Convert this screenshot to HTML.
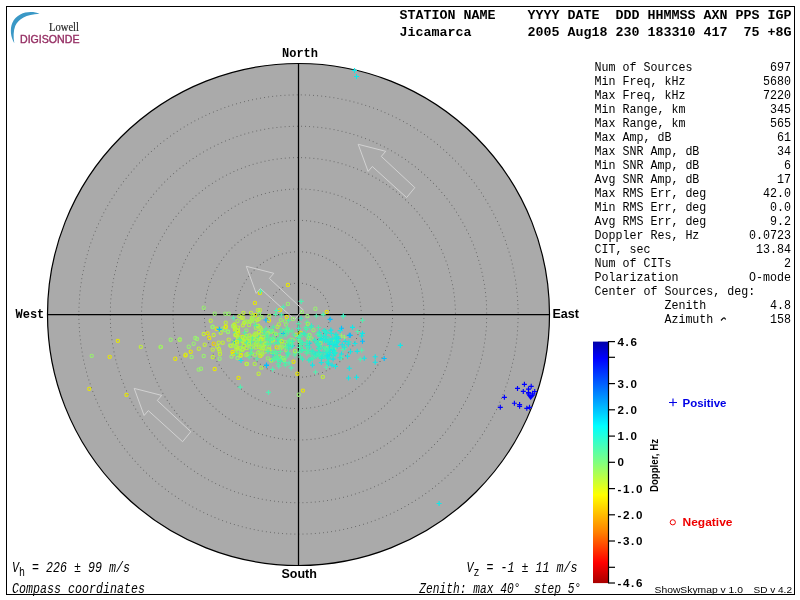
<!DOCTYPE html>
<html><head><meta charset="utf-8"><style>html,body{margin:0;padding:0;background:#fff;width:800px;height:600px;overflow:hidden}svg{display:block;will-change:transform}</style></head>
<body><svg width="800" height="600" viewBox="0 0 800 600">
<rect width="800" height="600" fill="#fff"/>
<rect x="6.5" y="6.5" width="788" height="588" fill="none" stroke="#000" stroke-width="1"/>
<path d="M39.5,13.8 C32,10.6 18,11 12.3,23 C9.8,29 10.6,37 14.3,43.2 C13.2,37 13.4,30.5 15.2,26 C18.5,19 26,14.5 39.5,13.8 Z" fill="#3a98c6"/>
<text x="49" y="30.5" font-family="Liberation Serif" font-size="11.5" fill="#2a2a2a" stroke="#2a2a2a" stroke-width="0.2" textLength="30" lengthAdjust="spacingAndGlyphs">Lowell</text>
<text x="20" y="43" font-family="Liberation Sans" font-size="10.3" fill="#952e63" stroke="#952e63" stroke-width="0.35" textLength="59.5" lengthAdjust="spacingAndGlyphs">DIGISONDE</text>
<text x="399.5" y="19" font-family="Liberation Mono" font-weight="bold" font-size="13.33" fill="#000" xml:space="preserve">STATION NAME    YYYY DATE  DDD HHMMSS AXN PPS IGP</text>
<text x="399.5" y="36" font-family="Liberation Mono" font-weight="bold" font-size="13.33" fill="#000" xml:space="preserve">Jicamarca       2005 Aug18 230 183310 417  75 +8G</text>
<circle cx="298.5" cy="314.5" r="251" fill="#aaaaaa" stroke="#000" stroke-width="1.2"/>
<circle cx="298.5" cy="314.5" r="31.38" fill="none" stroke="#5c5c5c" stroke-width="1" stroke-linecap="round" stroke-dasharray="0 4.1"/>
<circle cx="298.5" cy="314.5" r="62.75" fill="none" stroke="#5c5c5c" stroke-width="1" stroke-linecap="round" stroke-dasharray="0 4.1"/>
<circle cx="298.5" cy="314.5" r="94.12" fill="none" stroke="#5c5c5c" stroke-width="1" stroke-linecap="round" stroke-dasharray="0 4.1"/>
<circle cx="298.5" cy="314.5" r="125.50" fill="none" stroke="#5c5c5c" stroke-width="1" stroke-linecap="round" stroke-dasharray="0 4.1"/>
<circle cx="298.5" cy="314.5" r="156.88" fill="none" stroke="#5c5c5c" stroke-width="1" stroke-linecap="round" stroke-dasharray="0 4.1"/>
<circle cx="298.5" cy="314.5" r="188.25" fill="none" stroke="#5c5c5c" stroke-width="1" stroke-linecap="round" stroke-dasharray="0 4.1"/>
<circle cx="298.5" cy="314.5" r="219.62" fill="none" stroke="#5c5c5c" stroke-width="1" stroke-linecap="round" stroke-dasharray="0 4.1"/>
<line x1="298.5" y1="63.5" x2="298.5" y2="565.5" stroke="#000" stroke-width="1.25"/>
<line x1="47.5" y1="314.5" x2="549.5" y2="314.5" stroke="#000" stroke-width="1.25"/>
<polygon points="358.2,144.3 385.7,151.3 381.3,156.4 414.8,187.6 406.6,197.6 372.3,166.5 368.1,171.4" fill="none" stroke="#d4d4d4" stroke-width="0.95"/>
<polygon points="246.3,266.3 273.8,273.3 269.4,278.4 302.9,309.6 294.7,319.6 260.4,288.5 256.2,293.4" fill="none" stroke="#d4d4d4" stroke-width="0.95"/>
<polygon points="134.2,388.4 161.7,395.4 157.3,400.5 190.8,431.7 182.6,441.7 148.3,410.6 144.1,415.5" fill="none" stroke="#d4d4d4" stroke-width="0.95"/>
<text x="282" y="56.7" font-family="Liberation Mono" font-weight="bold" font-size="12" fill="#000">North</text>
<text x="15.5" y="318" font-family="Liberation Mono" font-weight="bold" font-size="12" fill="#000">West</text>
<text x="552.5" y="318" font-family="Liberation Sans" font-weight="bold" font-size="12.5" fill="#000">East</text>
<text x="281.5" y="577.5" font-family="Liberation Sans" font-weight="bold" font-size="12.5" fill="#000">South</text>
<circle cx="117.8" cy="340.8" r="1.65" fill="none" stroke="#e8e800" stroke-width="1.05"/>
<circle cx="91.7" cy="355.8" r="1.65" fill="none" stroke="#98f070" stroke-width="1.05"/>
<circle cx="109.7" cy="356.8" r="1.65" fill="none" stroke="#e8e800" stroke-width="1.05"/>
<circle cx="140.8" cy="346.8" r="1.65" fill="none" stroke="#c0f038" stroke-width="1.05"/>
<circle cx="160.7" cy="346.8" r="1.65" fill="none" stroke="#c0f038" stroke-width="1.05"/>
<circle cx="170.7" cy="339.7" r="1.65" fill="none" stroke="#98f070" stroke-width="1.05"/>
<circle cx="179.6" cy="339.7" r="1.65" fill="none" stroke="#c0f038" stroke-width="1.05"/>
<circle cx="89.3" cy="388.8" r="1.65" fill="none" stroke="#e8e800" stroke-width="1.05"/>
<circle cx="126.5" cy="394.8" r="1.65" fill="none" stroke="#e8e800" stroke-width="1.05"/>
<circle cx="160.7" cy="347" r="1.65" fill="none" stroke="#98f070" stroke-width="1.05"/>
<circle cx="175.3" cy="358.7" r="1.65" fill="none" stroke="#e8e800" stroke-width="1.05"/>
<circle cx="185.7" cy="354.7" r="1.65" fill="none" stroke="#c0f038" stroke-width="1.05"/>
<circle cx="188.7" cy="346.7" r="1.65" fill="none" stroke="#98f070" stroke-width="1.05"/>
<circle cx="190.7" cy="351.7" r="1.65" fill="none" stroke="#e8e800" stroke-width="1.05"/>
<circle cx="191.6" cy="357" r="1.65" fill="none" stroke="#98f070" stroke-width="1.05"/>
<circle cx="193.7" cy="343.7" r="1.65" fill="none" stroke="#98f070" stroke-width="1.05"/>
<circle cx="195.3" cy="338" r="1.65" fill="none" stroke="#98f070" stroke-width="1.05"/>
<circle cx="197" cy="339" r="1.65" fill="none" stroke="#98f070" stroke-width="1.05"/>
<circle cx="198.8" cy="348.7" r="1.65" fill="none" stroke="#c0f038" stroke-width="1.05"/>
<circle cx="198.7" cy="369.6" r="1.65" fill="none" stroke="#98f070" stroke-width="1.05"/>
<circle cx="201" cy="368.7" r="1.65" fill="none" stroke="#98f070" stroke-width="1.05"/>
<circle cx="203.7" cy="307.7" r="1.65" fill="none" stroke="#98f070" stroke-width="1.05"/>
<circle cx="203.7" cy="334" r="1.65" fill="none" stroke="#c0f038" stroke-width="1.05"/>
<circle cx="204.7" cy="344.7" r="1.65" fill="none" stroke="#c0f038" stroke-width="1.05"/>
<circle cx="203.7" cy="356" r="1.65" fill="none" stroke="#98f070" stroke-width="1.05"/>
<circle cx="207.6" cy="333.3" r="1.65" fill="none" stroke="#e8e800" stroke-width="1.05"/>
<circle cx="209.3" cy="338" r="1.65" fill="none" stroke="#e8e800" stroke-width="1.05"/>
<circle cx="210.7" cy="320.7" r="1.65" fill="none" stroke="#c0f038" stroke-width="1.05"/>
<circle cx="212.7" cy="326.7" r="1.65" fill="none" stroke="#98f070" stroke-width="1.05"/>
<circle cx="213.7" cy="335" r="1.65" fill="none" stroke="#c0f038" stroke-width="1.05"/>
<circle cx="213.7" cy="343.7" r="1.65" fill="none" stroke="#f0d000" stroke-width="1.05"/>
<circle cx="212.7" cy="349.6" r="1.65" fill="none" stroke="#c0f038" stroke-width="1.05"/>
<circle cx="212.7" cy="357" r="1.65" fill="none" stroke="#c0f038" stroke-width="1.05"/>
<circle cx="214.7" cy="369" r="1.65" fill="none" stroke="#e8e800" stroke-width="1.05"/>
<circle cx="214.7" cy="313.7" r="1.65" fill="none" stroke="#98f070" stroke-width="1.05"/>
<circle cx="216.7" cy="328.7" r="1.65" fill="none" stroke="#e8e800" stroke-width="1.05"/>
<circle cx="217.3" cy="346.7" r="1.65" fill="none" stroke="#c0f038" stroke-width="1.05"/>
<circle cx="219" cy="349" r="1.65" fill="none" stroke="#c0f038" stroke-width="1.05"/>
<circle cx="219.6" cy="351.3" r="1.65" fill="none" stroke="#c0f038" stroke-width="1.05"/>
<circle cx="220" cy="354" r="1.65" fill="none" stroke="#c0f038" stroke-width="1.05"/>
<circle cx="218.7" cy="342.7" r="1.65" fill="none" stroke="#c0f038" stroke-width="1.05"/>
<circle cx="222.7" cy="342.7" r="1.65" fill="none" stroke="#c0f038" stroke-width="1.05"/>
<circle cx="219.6" cy="358.7" r="1.65" fill="none" stroke="#98f070" stroke-width="1.05"/>
<circle cx="222.7" cy="328.7" r="1.65" fill="none" stroke="#98f070" stroke-width="1.05"/>
<circle cx="226" cy="326.7" r="1.65" fill="none" stroke="#c0f038" stroke-width="1.05"/>
<circle cx="224.7" cy="330" r="1.65" fill="none" stroke="#98f070" stroke-width="1.05"/>
<circle cx="228" cy="332" r="1.65" fill="none" stroke="#98f070" stroke-width="1.05"/>
<circle cx="220.7" cy="332.7" r="1.65" fill="none" stroke="#c0f038" stroke-width="1.05"/>
<circle cx="225.3" cy="313.7" r="1.65" fill="none" stroke="#98f070" stroke-width="1.05"/>
<circle cx="228.7" cy="313.7" r="1.65" fill="none" stroke="#98f070" stroke-width="1.05"/>
<circle cx="225.7" cy="322.7" r="1.65" fill="none" stroke="#c0f038" stroke-width="1.05"/>
<circle cx="228.7" cy="339.6" r="1.65" fill="none" stroke="#c0f038" stroke-width="1.05"/>
<circle cx="230" cy="345.3" r="1.65" fill="none" stroke="#98f070" stroke-width="1.05"/>
<circle cx="231" cy="346" r="1.65" fill="none" stroke="#c0f038" stroke-width="1.05"/>
<circle cx="232.5" cy="352" r="1.65" fill="none" stroke="#e8e800" stroke-width="1.05"/>
<circle cx="233" cy="354" r="1.65" fill="none" stroke="#e8e800" stroke-width="1.05"/>
<circle cx="231.5" cy="356.5" r="1.65" fill="none" stroke="#98f070" stroke-width="1.05"/>
<circle cx="237.5" cy="358" r="1.65" fill="none" stroke="#98f070" stroke-width="1.05"/>
<circle cx="241" cy="355" r="1.65" fill="none" stroke="#e8e800" stroke-width="1.05"/>
<circle cx="247" cy="364" r="1.65" fill="none" stroke="#98f070" stroke-width="1.05"/>
<circle cx="234.5" cy="325" r="1.65" fill="none" stroke="#e8e800" stroke-width="1.05"/>
<circle cx="233" cy="326" r="1.65" fill="none" stroke="#98f070" stroke-width="1.05"/>
<circle cx="235" cy="329.5" r="1.65" fill="none" stroke="#e8e800" stroke-width="1.05"/>
<circle cx="228" cy="331.5" r="1.65" fill="none" stroke="#98f070" stroke-width="1.05"/>
<circle cx="225.5" cy="327" r="1.65" fill="none" stroke="#e8e800" stroke-width="1.05"/>
<circle cx="212.5" cy="327" r="1.65" fill="none" stroke="#98f070" stroke-width="1.05"/>
<circle cx="185.4" cy="355.4" r="1.65" fill="none" stroke="#e8e800" stroke-width="1.05"/>
<circle cx="180" cy="339.5" r="1.65" fill="none" stroke="#98f070" stroke-width="1.05"/>
<circle cx="246.5" cy="363.8" r="1.65" fill="none" stroke="#c0f038" stroke-width="1.05"/>
<circle cx="258.6" cy="373.7" r="1.65" fill="none" stroke="#c0f038" stroke-width="1.05"/>
<circle cx="238.5" cy="377.9" r="1.65" fill="none" stroke="#e8e800" stroke-width="1.05"/>
<circle cx="297.4" cy="373.7" r="1.65" fill="none" stroke="#e8e800" stroke-width="1.05"/>
<circle cx="293.5" cy="361.7" r="1.65" fill="none" stroke="#e8e800" stroke-width="1.05"/>
<circle cx="322.8" cy="376.8" r="1.65" fill="none" stroke="#c0f038" stroke-width="1.05"/>
<circle cx="302.9" cy="390.6" r="1.65" fill="none" stroke="#e8e800" stroke-width="1.05"/>
<circle cx="298.8" cy="394.7" r="1.65" fill="none" stroke="#98f070" stroke-width="1.05"/>
<circle cx="287.9" cy="284.9" r="1.65" fill="none" stroke="#e8e800" stroke-width="1.05"/>
<circle cx="259.9" cy="292.9" r="1.65" fill="none" stroke="#e8e800" stroke-width="1.05"/>
<circle cx="254.9" cy="302.9" r="1.65" fill="none" stroke="#e8e800" stroke-width="1.05"/>
<circle cx="287.9" cy="303.9" r="1.65" fill="none" stroke="#98f070" stroke-width="1.05"/>
<circle cx="279.9" cy="310.1" r="1.65" fill="none" stroke="#e8e800" stroke-width="1.05"/>
<circle cx="257.9" cy="310.1" r="1.65" fill="none" stroke="#c0f038" stroke-width="1.05"/>
<circle cx="259.9" cy="310.1" r="1.65" fill="none" stroke="#c0f038" stroke-width="1.05"/>
<circle cx="315.4" cy="308.7" r="1.65" fill="none" stroke="#98f070" stroke-width="1.05"/>
<circle cx="326.7" cy="311.9" r="1.65" fill="none" stroke="#e8e800" stroke-width="1.05"/>
<circle cx="301.9" cy="311.9" r="1.65" fill="none" stroke="#98f070" stroke-width="1.05"/>
<circle cx="307.4" cy="316" r="1.65" fill="none" stroke="#98f070" stroke-width="1.05"/>
<circle cx="286.8" cy="317" r="1.65" fill="none" stroke="#e8e800" stroke-width="1.05"/>
<circle cx="243.4" cy="312.8" r="1.65" fill="none" stroke="#c0f038" stroke-width="1.05"/>
<circle cx="251" cy="312.8" r="1.65" fill="none" stroke="#c0f038" stroke-width="1.05"/>
<circle cx="241.4" cy="317.6" r="1.65" fill="none" stroke="#c0f038" stroke-width="1.05"/>
<circle cx="255.1" cy="314.9" r="1.65" fill="none" stroke="#e8e800" stroke-width="1.05"/>
<circle cx="259.2" cy="313.5" r="1.65" fill="none" stroke="#98f070" stroke-width="1.05"/>
<circle cx="293" cy="319" r="1.65" fill="none" stroke="#98f070" stroke-width="1.05"/>
<circle cx="244.8" cy="321.8" r="1.65" fill="none" stroke="#98f070" stroke-width="1.05"/>
<circle cx="242.8" cy="317.8" r="1.65" fill="none" stroke="#c0f038" stroke-width="1.05"/>
<circle cx="251.8" cy="317.8" r="1.65" fill="none" stroke="#c0f038" stroke-width="1.05"/>
<circle cx="258.8" cy="319" r="1.65" fill="none" stroke="#c0f038" stroke-width="1.05"/>
<circle cx="269" cy="320.5" r="1.65" fill="none" stroke="#e8e800" stroke-width="1.05"/>
<circle cx="250.5" cy="321.8" r="1.65" fill="none" stroke="#98f070" stroke-width="1.05"/>
<circle cx="255" cy="321.5" r="1.65" fill="none" stroke="#98f070" stroke-width="1.05"/>
<path d="M216.8,329.3h5M219.3,326.8v5" stroke="#00c0ff" stroke-width="1.15"/>
<path d="M258.1,291.2h5M260.6,288.7v5" stroke="#50f0b0" stroke-width="1.15"/>
<path d="M298.7,301.4h5M301.2,298.9v5" stroke="#50f0b0" stroke-width="1.15"/>
<path d="M280.8,306.9h5M283.3,304.4v5" stroke="#50f0b0" stroke-width="1.15"/>
<path d="M274.0,310.5h5M276.5,308.0v5" stroke="#50f0b0" stroke-width="1.15"/>
<path d="M313.8,316h5M316.3,313.5v5" stroke="#50f0b0" stroke-width="1.15"/>
<path d="M320.7,314.6h5M323.2,312.1v5" stroke="#50f0b0" stroke-width="1.15"/>
<path d="M340.9,316h5M343.4,313.5v5" stroke="#10e8e8" stroke-width="1.15"/>
<path d="M327.6,319.3h5M330.1,316.8v5" stroke="#00c0ff" stroke-width="1.15"/>
<path d="M278.8,314.9h5M281.3,312.4v5" stroke="#50f0b0" stroke-width="1.15"/>
<path d="M231.0,318h5M233.5,315.5v5" stroke="#50f0b0" stroke-width="1.15"/>
<path d="M263.5,320h5M266,317.5v5" stroke="#00c0ff" stroke-width="1.15"/>
<path d="M340.8,316.2h5M343.3,313.7v5" stroke="#50f0b0" stroke-width="1.15"/>
<path d="M360.0,320.2h5M362.5,317.7v5" stroke="#50f0b0" stroke-width="1.15"/>
<path d="M339.0,328.2h5M341.5,325.7v5" stroke="#00c0ff" stroke-width="1.15"/>
<path d="M350.0,327.3h5M352.5,324.8v5" stroke="#10e8e8" stroke-width="1.15"/>
<path d="M355.2,331.5h5M357.7,329.0v5" stroke="#50f0b0" stroke-width="1.15"/>
<path d="M360.0,333.3h5M362.5,330.8v5" stroke="#10e8e8" stroke-width="1.15"/>
<path d="M346.8,335.3h5M349.3,332.8v5" stroke="#00c0ff" stroke-width="1.15"/>
<path d="M347.8,335.3h5M350.3,332.8v5" stroke="#00c0ff" stroke-width="1.15"/>
<path d="M339.0,335.7h5M341.5,333.2v5" stroke="#98f070" stroke-width="1.15"/>
<path d="M342.0,337.2h5M344.5,334.7v5" stroke="#98f070" stroke-width="1.15"/>
<path d="M359.2,336h5M361.7,333.5v5" stroke="#10e8e8" stroke-width="1.15"/>
<path d="M360.0,341.2h5M362.5,338.7v5" stroke="#00c0ff" stroke-width="1.15"/>
<path d="M352.5,343.5h5M355,341.0v5" stroke="#10e8e8" stroke-width="1.15"/>
<path d="M345.8,344.2h5M348.3,341.7v5" stroke="#10e8e8" stroke-width="1.15"/>
<path d="M339.7,344.7h5M342.2,342.2v5" stroke="#10e8e8" stroke-width="1.15"/>
<path d="M342.7,348h5M345.2,345.5v5" stroke="#50f0b0" stroke-width="1.15"/>
<path d="M340.5,349.5h5M343,347.0v5" stroke="#50f0b0" stroke-width="1.15"/>
<path d="M348.0,351.7h5M350.5,349.2v5" stroke="#10e8e8" stroke-width="1.15"/>
<path d="M354.7,351.3h5M357.2,348.8v5" stroke="#10e8e8" stroke-width="1.15"/>
<path d="M359.2,350.2h5M361.7,347.7v5" stroke="#50f0b0" stroke-width="1.15"/>
<path d="M339.0,354h5M341.5,351.5v5" stroke="#10e8e8" stroke-width="1.15"/>
<path d="M345.0,356.2h5M347.5,353.7v5" stroke="#10e8e8" stroke-width="1.15"/>
<path d="M357.7,359.2h5M360.2,356.7v5" stroke="#50f0b0" stroke-width="1.15"/>
<path d="M361.8,358.2h5M364.3,355.7v5" stroke="#10e8e8" stroke-width="1.15"/>
<path d="M339.0,357.7h5M341.5,355.2v5" stroke="#50f0b0" stroke-width="1.15"/>
<path d="M372.7,356.7h5M375.2,354.2v5" stroke="#10e8e8" stroke-width="1.15"/>
<path d="M372.7,362.2h5M375.2,359.7v5" stroke="#10e8e8" stroke-width="1.15"/>
<path d="M381.7,358.5h5M384.2,356.0v5" stroke="#00c0ff" stroke-width="1.15"/>
<path d="M397.8,345.4h5M400.3,342.9v5" stroke="#10e8e8" stroke-width="1.15"/>
<path d="M346.8,368.2h5M349.3,365.7v5" stroke="#10e8e8" stroke-width="1.15"/>
<path d="M346.0,378h5M348.5,375.5v5" stroke="#10e8e8" stroke-width="1.15"/>
<path d="M354.0,377.2h5M356.5,374.7v5" stroke="#10e8e8" stroke-width="1.15"/>
<path d="M264.0,365.1h5M266.5,362.6v5" stroke="#00c0ff" stroke-width="1.15"/>
<path d="M270.1,369.3h5M272.6,366.8v5" stroke="#50f0b0" stroke-width="1.15"/>
<path d="M276.3,366.2h5M278.8,363.7v5" stroke="#50f0b0" stroke-width="1.15"/>
<path d="M288.7,367.9h5M291.2,365.4v5" stroke="#50f0b0" stroke-width="1.15"/>
<path d="M310.0,365.1h5M312.5,362.6v5" stroke="#10e8e8" stroke-width="1.15"/>
<path d="M313.0,372h5M315.5,369.5v5" stroke="#50f0b0" stroke-width="1.15"/>
<path d="M323.8,367.2h5M326.3,364.7v5" stroke="#50f0b0" stroke-width="1.15"/>
<path d="M329.5,365.1h5M332,362.6v5" stroke="#10e8e8" stroke-width="1.15"/>
<path d="M237.8,387.1h5M240.3,384.6v5" stroke="#50f0b0" stroke-width="1.15"/>
<path d="M266.0,392.4h5M268.5,389.9v5" stroke="#50f0b0" stroke-width="1.15"/>
<path d="M270.1,359.6h5M272.6,357.1v5" stroke="#50f0b0" stroke-width="1.15"/>
<path d="M275.0,359.6h5M277.5,357.1v5" stroke="#50f0b0" stroke-width="1.15"/>
<path d="M282.5,362.4h5M285,359.9v5" stroke="#50f0b0" stroke-width="1.15"/>
<path d="M286.5,363h5M289,360.5v5" stroke="#50f0b0" stroke-width="1.15"/>
<path d="M264.0,365.5h5M266.5,363.0v5" stroke="#00c0ff" stroke-width="1.15"/>
<path d="M269.5,360h5M272,357.5v5" stroke="#10e8e8" stroke-width="1.15"/>
<path d="M270.5,354h5M273,351.5v5" stroke="#10e8e8" stroke-width="1.15"/>
<path d="M238.5,360.5h5M241,358.0v5" stroke="#10e8e8" stroke-width="1.15"/>
<path d="M352.0,70.4h5M354.5,67.9v5" stroke="#10e8e8" stroke-width="1.15"/>
<path d="M354.0,76.5h5M356.5,74.0v5" stroke="#10e8e8" stroke-width="1.15"/>
<path d="M436.6,503.5h5M439.1,501.0v5" stroke="#10e8e8" stroke-width="1.15"/>
<path d="M521.9,384.3h5M524.4,381.8v5" stroke="#0000ff" stroke-width="1.15"/>
<path d="M528.7,386.3h5M531.2,383.8v5" stroke="#0000ff" stroke-width="1.15"/>
<path d="M515.0,388.4h5M517.5,385.9v5" stroke="#0000ff" stroke-width="1.15"/>
<path d="M526.0,389.1h5M528.5,386.6v5" stroke="#0000ff" stroke-width="1.15"/>
<path d="M520.8,391.4h5M523.3,388.9v5" stroke="#0000ff" stroke-width="1.15"/>
<path d="M532.2,391.5h5M534.7,389.0v5" stroke="#0000ff" stroke-width="1.15"/>
<path d="M526.0,393.2h5M528.5,390.7v5" stroke="#0000ff" stroke-width="1.15"/>
<path d="M530.1,393.2h5M532.6,390.7v5" stroke="#0000ff" stroke-width="1.15"/>
<path d="M501.9,397.3h5M504.4,394.8v5" stroke="#0000ff" stroke-width="1.15"/>
<path d="M511.9,403.2h5M514.4,400.7v5" stroke="#0000ff" stroke-width="1.15"/>
<path d="M517.1,404.6h5M519.6,402.1v5" stroke="#0000ff" stroke-width="1.15"/>
<path d="M517.1,406.3h5M519.6,403.8v5" stroke="#0000ff" stroke-width="1.15"/>
<path d="M497.8,407.3h5M500.3,404.8v5" stroke="#0000ff" stroke-width="1.15"/>
<path d="M524.3,408.3h5M526.8,405.8v5" stroke="#0000ff" stroke-width="1.15"/>
<path d="M527.0,407.3h5M529.5,404.8v5" stroke="#0000ff" stroke-width="1.15"/>
<path d="M526.0,392.5h5M528.5,390.0v5" stroke="#0000ff" stroke-width="1.15"/>
<circle cx="267.7" cy="348.8" r="1.65" fill="none" stroke="#8cf06c" stroke-width="1.05"/>
<circle cx="272.0" cy="352.1" r="1.65" fill="none" stroke="#94f064" stroke-width="1.05"/>
<path d="M238.8,346.8h5M241.3,344.3v5" stroke="#55f0a0" stroke-width="1.15"/>
<circle cx="257.2" cy="319.9" r="1.65" fill="none" stroke="#bef237" stroke-width="1.05"/>
<path d="M333.0,366.4h5M335.5,363.9v5" stroke="#16e9e1" stroke-width="1.15"/>
<circle cx="246.3" cy="330.3" r="1.65" fill="none" stroke="#96f062" stroke-width="1.05"/>
<circle cx="300.4" cy="332.8" r="1.65" fill="none" stroke="#d9ec0b" stroke-width="1.05"/>
<path d="M302.3,334.2h5M304.8,331.7v5" stroke="#3aedbb" stroke-width="1.15"/>
<circle cx="265.2" cy="344.0" r="1.65" fill="none" stroke="#b7f13e" stroke-width="1.05"/>
<path d="M286.1,354.0h5M288.6,351.5v5" stroke="#55f0a0" stroke-width="1.15"/>
<circle cx="246.3" cy="321.5" r="1.65" fill="none" stroke="#a4f053" stroke-width="1.05"/>
<circle cx="238.1" cy="327.6" r="1.65" fill="none" stroke="#bef237" stroke-width="1.05"/>
<path d="M264.1,334.4h5M266.6,331.9v5" stroke="#55f0a0" stroke-width="1.15"/>
<path d="M318.9,356.0h5M321.4,353.5v5" stroke="#33ecc2" stroke-width="1.15"/>
<path d="M304.5,322.1h5M307.0,319.6v5" stroke="#55f0a0" stroke-width="1.15"/>
<path d="M271.6,338.9h5M274.1,336.4v5" stroke="#55f0a0" stroke-width="1.15"/>
<circle cx="246.2" cy="355.1" r="1.65" fill="none" stroke="#a7f150" stroke-width="1.05"/>
<path d="M272.2,343.2h5M274.7,340.7v5" stroke="#55f0a0" stroke-width="1.15"/>
<path d="M323.4,354.0h5M325.9,351.5v5" stroke="#44eeb1" stroke-width="1.15"/>
<circle cx="271.3" cy="360.5" r="1.65" fill="none" stroke="#b4f141" stroke-width="1.05"/>
<circle cx="258.1" cy="340.0" r="1.65" fill="none" stroke="#95f063" stroke-width="1.05"/>
<circle cx="234.4" cy="327.3" r="1.65" fill="none" stroke="#b3f142" stroke-width="1.05"/>
<path d="M303.3,327.7h5M305.8,325.2v5" stroke="#40edb5" stroke-width="1.15"/>
<path d="M325.1,349.1h5M327.6,346.6v5" stroke="#45eeb0" stroke-width="1.15"/>
<circle cx="275.5" cy="352.6" r="1.65" fill="none" stroke="#8cf06e" stroke-width="1.05"/>
<circle cx="255.7" cy="343.7" r="1.65" fill="none" stroke="#dbec08" stroke-width="1.05"/>
<path d="M242.1,335.8h5M244.6,333.3v5" stroke="#55f0a0" stroke-width="1.15"/>
<circle cx="249.4" cy="337.7" r="1.65" fill="none" stroke="#9ff058" stroke-width="1.05"/>
<path d="M319.8,356.7h5M322.3,354.2v5" stroke="#2debc8" stroke-width="1.15"/>
<path d="M242.1,332.7h5M244.6,330.2v5" stroke="#55f0a0" stroke-width="1.15"/>
<circle cx="236.4" cy="349.5" r="1.65" fill="none" stroke="#bef237" stroke-width="1.05"/>
<path d="M321.3,339.2h5M323.8,336.7v5" stroke="#2cebca" stroke-width="1.15"/>
<path d="M311.8,354.2h5M314.3,351.7v5" stroke="#33ecc3" stroke-width="1.15"/>
<path d="M315.9,334.4h5M318.4,331.9v5" stroke="#20ead6" stroke-width="1.15"/>
<path d="M308.4,327.5h5M310.9,325.0v5" stroke="#47eeae" stroke-width="1.15"/>
<circle cx="236.9" cy="335.6" r="1.65" fill="none" stroke="#b9f13b" stroke-width="1.05"/>
<path d="M278.0,357.5h5M280.5,355.0v5" stroke="#34ecc1" stroke-width="1.15"/>
<circle cx="256.9" cy="336.5" r="1.65" fill="none" stroke="#a4f053" stroke-width="1.05"/>
<path d="M325.1,351.9h5M327.6,349.4v5" stroke="#3cedb8" stroke-width="1.15"/>
<circle cx="242.8" cy="339.3" r="1.65" fill="none" stroke="#9df05b" stroke-width="1.05"/>
<circle cx="283.7" cy="330.6" r="1.65" fill="none" stroke="#8df06b" stroke-width="1.05"/>
<path d="M332.6,336.0h5M335.1,333.5v5" stroke="#3cedb9" stroke-width="1.15"/>
<circle cx="251.7" cy="353.5" r="1.65" fill="none" stroke="#99f05f" stroke-width="1.05"/>
<path d="M246.7,357.2h5M249.2,354.7v5" stroke="#55f0a0" stroke-width="1.15"/>
<circle cx="291.1" cy="339.6" r="1.65" fill="none" stroke="#8cf06e" stroke-width="1.05"/>
<path d="M286.3,344.0h5M288.8,341.5v5" stroke="#55f0a0" stroke-width="1.15"/>
<circle cx="255.9" cy="347.4" r="1.65" fill="none" stroke="#abf14b" stroke-width="1.05"/>
<circle cx="261.0" cy="346.8" r="1.65" fill="none" stroke="#8df06c" stroke-width="1.05"/>
<path d="M279.1,358.5h5M281.6,356.0v5" stroke="#4befa9" stroke-width="1.15"/>
<path d="M283.7,334.7h5M286.2,332.2v5" stroke="#55f0a0" stroke-width="1.15"/>
<circle cx="253.0" cy="337.9" r="1.65" fill="none" stroke="#a7f14f" stroke-width="1.05"/>
<path d="M306.9,336.8h5M309.4,334.3v5" stroke="#43eeb2" stroke-width="1.15"/>
<path d="M313.1,355.6h5M315.6,353.1v5" stroke="#3eedb7" stroke-width="1.15"/>
<path d="M311.8,340.6h5M314.3,338.1v5" stroke="#4defa8" stroke-width="1.15"/>
<path d="M277.6,333.6h5M280.1,331.1v5" stroke="#55f0a0" stroke-width="1.15"/>
<path d="M278.5,340.2h5M281.0,337.7v5" stroke="#55f0a0" stroke-width="1.15"/>
<path d="M322.7,348.3h5M325.2,345.8v5" stroke="#2bebcb" stroke-width="1.15"/>
<path d="M318.9,358.4h5M321.4,355.9v5" stroke="#22ead4" stroke-width="1.15"/>
<circle cx="259.0" cy="346.9" r="1.65" fill="none" stroke="#b2f143" stroke-width="1.05"/>
<circle cx="250.1" cy="321.1" r="1.65" fill="none" stroke="#b1f144" stroke-width="1.05"/>
<path d="M332.1,340.4h5M334.6,337.9v5" stroke="#11e8e6" stroke-width="1.15"/>
<path d="M334.4,342.5h5M336.9,340.0v5" stroke="#14e9e2" stroke-width="1.15"/>
<circle cx="269.3" cy="349.6" r="1.65" fill="none" stroke="#cdee1e" stroke-width="1.05"/>
<circle cx="279.8" cy="356.6" r="1.65" fill="none" stroke="#9ef059" stroke-width="1.05"/>
<path d="M238.2,350.5h5M240.7,348.0v5" stroke="#55f0a0" stroke-width="1.15"/>
<circle cx="238.1" cy="338.4" r="1.65" fill="none" stroke="#bef237" stroke-width="1.05"/>
<path d="M326.3,348.6h5M328.8,346.1v5" stroke="#30ecc5" stroke-width="1.15"/>
<circle cx="293.3" cy="340.3" r="1.65" fill="none" stroke="#8ff06a" stroke-width="1.05"/>
<path d="M275.7,363.8h5M278.2,361.3v5" stroke="#4cefa8" stroke-width="1.15"/>
<path d="M240.2,339.8h5M242.7,337.3v5" stroke="#55f0a0" stroke-width="1.15"/>
<circle cx="269.3" cy="315.9" r="1.65" fill="none" stroke="#a8f14e" stroke-width="1.05"/>
<circle cx="288.8" cy="341.8" r="1.65" fill="none" stroke="#d9ec0b" stroke-width="1.05"/>
<circle cx="266.4" cy="333.1" r="1.65" fill="none" stroke="#8cf06e" stroke-width="1.05"/>
<circle cx="252.5" cy="336.9" r="1.65" fill="none" stroke="#c7f028" stroke-width="1.05"/>
<path d="M288.8,346.3h5M291.3,343.8v5" stroke="#3eedb7" stroke-width="1.15"/>
<path d="M316.7,332.4h5M319.2,329.9v5" stroke="#29ebcd" stroke-width="1.15"/>
<path d="M284.2,329.3h5M286.7,326.8v5" stroke="#55f0a0" stroke-width="1.15"/>
<path d="M305.0,335.7h5M307.5,333.2v5" stroke="#48eead" stroke-width="1.15"/>
<circle cx="247.5" cy="354.0" r="1.65" fill="none" stroke="#a4f052" stroke-width="1.05"/>
<circle cx="242.8" cy="349.3" r="1.65" fill="none" stroke="#bef237" stroke-width="1.05"/>
<circle cx="259.2" cy="335.5" r="1.65" fill="none" stroke="#95f063" stroke-width="1.05"/>
<circle cx="261.4" cy="367.6" r="1.65" fill="none" stroke="#adf149" stroke-width="1.05"/>
<circle cx="334.4" cy="341.7" r="1.65" fill="none" stroke="#8cf06e" stroke-width="1.05"/>
<path d="M280.9,333.5h5M283.4,331.0v5" stroke="#00b0ff" stroke-width="1.15"/>
<circle cx="261.5" cy="348.3" r="1.65" fill="none" stroke="#d6ed10" stroke-width="1.05"/>
<path d="M255.7,327.0h5M258.2,324.5v5" stroke="#55f0a0" stroke-width="1.15"/>
<path d="M306.0,351.1h5M308.5,348.6v5" stroke="#46eeaf" stroke-width="1.15"/>
<circle cx="249.5" cy="335.3" r="1.65" fill="none" stroke="#bef237" stroke-width="1.05"/>
<path d="M324.3,332.3h5M326.8,329.8v5" stroke="#39edbc" stroke-width="1.15"/>
<path d="M286.0,320.5h5M288.5,318.0v5" stroke="#52efa3" stroke-width="1.15"/>
<path d="M292.2,355.0h5M294.7,352.5v5" stroke="#55f0a0" stroke-width="1.15"/>
<circle cx="237.2" cy="343.7" r="1.65" fill="none" stroke="#adf149" stroke-width="1.05"/>
<path d="M289.6,331.0h5M292.1,328.5v5" stroke="#55f0a0" stroke-width="1.15"/>
<circle cx="234.3" cy="341.9" r="1.65" fill="none" stroke="#bef237" stroke-width="1.05"/>
<path d="M300.1,359.1h5M302.6,356.6v5" stroke="#38ecbd" stroke-width="1.15"/>
<path d="M259.1,338.0h5M261.6,335.5v5" stroke="#55f0a0" stroke-width="1.15"/>
<path d="M282.9,331.8h5M285.4,329.3v5" stroke="#49eeac" stroke-width="1.15"/>
<path d="M295.7,339.5h5M298.2,337.0v5" stroke="#4beea9" stroke-width="1.15"/>
<circle cx="311.3" cy="338.6" r="1.65" fill="none" stroke="#8cf06e" stroke-width="1.05"/>
<path d="M259.5,331.0h5M262.0,328.5v5" stroke="#55f0a0" stroke-width="1.15"/>
<circle cx="287.7" cy="329.3" r="1.65" fill="none" stroke="#8cf06e" stroke-width="1.05"/>
<circle cx="254.7" cy="363.9" r="1.65" fill="none" stroke="#aef148" stroke-width="1.05"/>
<path d="M316.8,355.9h5M319.3,353.4v5" stroke="#33ecc2" stroke-width="1.15"/>
<path d="M329.8,348.9h5M332.3,346.4v5" stroke="#0fe8e8" stroke-width="1.15"/>
<path d="M330.6,359.1h5M333.1,356.6v5" stroke="#0ce8ea" stroke-width="1.15"/>
<path d="M304.6,345.8h5M307.1,343.3v5" stroke="#1dead9" stroke-width="1.15"/>
<circle cx="234.4" cy="324.5" r="1.65" fill="none" stroke="#b9f13b" stroke-width="1.05"/>
<circle cx="269.8" cy="331.2" r="1.65" fill="none" stroke="#8cf06e" stroke-width="1.05"/>
<path d="M318.8,362.6h5M321.3,360.1v5" stroke="#16e9e0" stroke-width="1.15"/>
<path d="M261.6,331.5h5M264.1,329.0v5" stroke="#55f0a0" stroke-width="1.15"/>
<circle cx="271.5" cy="331.9" r="1.65" fill="none" stroke="#96f062" stroke-width="1.05"/>
<path d="M318.3,338.6h5M320.8,336.1v5" stroke="#0ce8eb" stroke-width="1.15"/>
<path d="M284.6,345.2h5M287.1,342.7v5" stroke="#45eeb0" stroke-width="1.15"/>
<path d="M315.9,327.5h5M318.4,325.0v5" stroke="#49eeab" stroke-width="1.15"/>
<path d="M306.3,360.2h5M308.8,357.7v5" stroke="#34ecc2" stroke-width="1.15"/>
<path d="M298.5,341.7h5M301.0,339.2v5" stroke="#3fedb6" stroke-width="1.15"/>
<path d="M280.6,335.7h5M283.1,333.2v5" stroke="#4cefa8" stroke-width="1.15"/>
<circle cx="261.1" cy="333.7" r="1.65" fill="none" stroke="#aef147" stroke-width="1.05"/>
<path d="M248.9,342.0h5M251.4,339.5v5" stroke="#55f0a0" stroke-width="1.15"/>
<circle cx="280.8" cy="320.1" r="1.65" fill="none" stroke="#91f068" stroke-width="1.05"/>
<circle cx="243.5" cy="341.8" r="1.65" fill="none" stroke="#b3f142" stroke-width="1.05"/>
<path d="M309.5,357.7h5M312.0,355.2v5" stroke="#47eead" stroke-width="1.15"/>
<circle cx="269.2" cy="346.5" r="1.65" fill="none" stroke="#a4f053" stroke-width="1.05"/>
<path d="M297.0,347.3h5M299.5,344.8v5" stroke="#4defa7" stroke-width="1.15"/>
<path d="M273.1,314.5h5M275.6,312.0v5" stroke="#52efa2" stroke-width="1.15"/>
<path d="M233.8,353.6h5M236.3,351.1v5" stroke="#55f0a0" stroke-width="1.15"/>
<path d="M292.6,352.9h5M295.1,350.4v5" stroke="#4aeeab" stroke-width="1.15"/>
<path d="M320.5,352.7h5M323.0,350.2v5" stroke="#2eebc8" stroke-width="1.15"/>
<path d="M285.8,330.5h5M288.3,328.0v5" stroke="#55f0a0" stroke-width="1.15"/>
<circle cx="313.5" cy="330.2" r="1.65" fill="none" stroke="#8cf06e" stroke-width="1.05"/>
<circle cx="258.2" cy="352.5" r="1.65" fill="none" stroke="#b0f145" stroke-width="1.05"/>
<circle cx="260.2" cy="327.7" r="1.65" fill="none" stroke="#b6f13f" stroke-width="1.05"/>
<path d="M286.0,331.9h5M288.5,329.4v5" stroke="#55f0a0" stroke-width="1.15"/>
<path d="M232.6,332.7h5M235.1,330.2v5" stroke="#55f0a0" stroke-width="1.15"/>
<path d="M323.4,336.8h5M325.9,334.3v5" stroke="#27ebcf" stroke-width="1.15"/>
<path d="M304.8,342.2h5M307.3,339.7v5" stroke="#3aedbb" stroke-width="1.15"/>
<path d="M275.2,339.6h5M277.7,337.1v5" stroke="#46eeae" stroke-width="1.15"/>
<circle cx="237.5" cy="330.7" r="1.65" fill="none" stroke="#aaf14c" stroke-width="1.05"/>
<path d="M314.4,343.0h5M316.9,340.5v5" stroke="#44eeb1" stroke-width="1.15"/>
<circle cx="266.4" cy="342.8" r="1.65" fill="none" stroke="#a9f14d" stroke-width="1.05"/>
<circle cx="264.7" cy="351.5" r="1.65" fill="none" stroke="#a6f151" stroke-width="1.05"/>
<circle cx="277.4" cy="326.8" r="1.65" fill="none" stroke="#b6f13f" stroke-width="1.05"/>
<circle cx="256.1" cy="344.5" r="1.65" fill="none" stroke="#a9f14d" stroke-width="1.05"/>
<path d="M272.4,358.4h5M274.9,355.9v5" stroke="#55f0a0" stroke-width="1.15"/>
<path d="M328.4,341.8h5M330.9,339.3v5" stroke="#1be9db" stroke-width="1.15"/>
<circle cx="237.3" cy="331.3" r="1.65" fill="none" stroke="#bef237" stroke-width="1.05"/>
<circle cx="251.6" cy="347.0" r="1.65" fill="none" stroke="#abf14b" stroke-width="1.05"/>
<circle cx="246.9" cy="344.9" r="1.65" fill="none" stroke="#b2f143" stroke-width="1.05"/>
<path d="M317.0,341.0h5M319.5,338.5v5" stroke="#2eebc8" stroke-width="1.15"/>
<path d="M327.1,348.7h5M329.6,346.2v5" stroke="#17e9df" stroke-width="1.15"/>
<circle cx="276.7" cy="347.4" r="1.65" fill="none" stroke="#deeb03" stroke-width="1.05"/>
<path d="M327.2,344.3h5M329.7,341.8v5" stroke="#0ce8eb" stroke-width="1.15"/>
<circle cx="262.3" cy="353.7" r="1.65" fill="none" stroke="#a8f14e" stroke-width="1.05"/>
<path d="M264.4,339.3h5M266.9,336.8v5" stroke="#55f0a0" stroke-width="1.15"/>
<path d="M297.4,344.7h5M299.9,342.2v5" stroke="#46eeaf" stroke-width="1.15"/>
<path d="M331.0,355.8h5M333.5,353.3v5" stroke="#25ead1" stroke-width="1.15"/>
<path d="M282.8,347.4h5M285.3,344.9v5" stroke="#55f0a0" stroke-width="1.15"/>
<path d="M317.1,346.3h5M319.6,343.8v5" stroke="#44eeb1" stroke-width="1.15"/>
<circle cx="271.6" cy="340.7" r="1.65" fill="none" stroke="#a1f056" stroke-width="1.05"/>
<circle cx="259.7" cy="341.4" r="1.65" fill="none" stroke="#a3f053" stroke-width="1.05"/>
<circle cx="261.5" cy="317.1" r="1.65" fill="none" stroke="#95f063" stroke-width="1.05"/>
<circle cx="280.5" cy="348.0" r="1.65" fill="none" stroke="#a6f151" stroke-width="1.05"/>
<path d="M309.3,351.1h5M311.8,348.6v5" stroke="#3cedb9" stroke-width="1.15"/>
<path d="M262.1,334.4h5M264.6,331.9v5" stroke="#55f0a0" stroke-width="1.15"/>
<circle cx="259.7" cy="351.7" r="1.65" fill="none" stroke="#93f065" stroke-width="1.05"/>
<circle cx="267.9" cy="358.3" r="1.65" fill="none" stroke="#8cf06d" stroke-width="1.05"/>
<path d="M315.6,343.4h5M318.1,340.9v5" stroke="#2aebcc" stroke-width="1.15"/>
<path d="M316.7,343.8h5M319.2,341.3v5" stroke="#2cebc9" stroke-width="1.15"/>
<circle cx="246.4" cy="336.0" r="1.65" fill="none" stroke="#9cf05b" stroke-width="1.05"/>
<path d="M270.2,337.5h5M272.7,335.0v5" stroke="#55f0a0" stroke-width="1.15"/>
<path d="M329.9,348.0h5M332.4,345.5v5" stroke="#33ecc2" stroke-width="1.15"/>
<circle cx="272.3" cy="331.2" r="1.65" fill="none" stroke="#97f061" stroke-width="1.05"/>
<path d="M299.3,350.6h5M301.8,348.1v5" stroke="#35ecc0" stroke-width="1.15"/>
<circle cx="253.3" cy="338.9" r="1.65" fill="none" stroke="#a2f054" stroke-width="1.05"/>
<circle cx="240.6" cy="355.8" r="1.65" fill="none" stroke="#bef237" stroke-width="1.05"/>
<circle cx="243.5" cy="345.8" r="1.65" fill="none" stroke="#b7f13d" stroke-width="1.05"/>
<path d="M263.5,328.7h5M266.0,326.2v5" stroke="#55f0a0" stroke-width="1.15"/>
<path d="M274.8,353.5h5M277.3,351.0v5" stroke="#4eefa6" stroke-width="1.15"/>
<path d="M307.2,343.1h5M309.7,340.6v5" stroke="#1ae9dd" stroke-width="1.15"/>
<path d="M316.8,345.0h5M319.3,342.5v5" stroke="#23ead3" stroke-width="1.15"/>
<circle cx="235.5" cy="328.4" r="1.65" fill="none" stroke="#bef237" stroke-width="1.05"/>
<path d="M296.2,323.6h5M298.7,321.1v5" stroke="#4eefa6" stroke-width="1.15"/>
<path d="M285.7,341.2h5M288.2,338.7v5" stroke="#44eeb1" stroke-width="1.15"/>
<path d="M332.1,353.6h5M334.6,351.1v5" stroke="#0ae8ee" stroke-width="1.15"/>
<circle cx="284.2" cy="359.8" r="1.65" fill="none" stroke="#8cf06e" stroke-width="1.05"/>
<path d="M296.0,337.4h5M298.5,334.9v5" stroke="#38ecbd" stroke-width="1.15"/>
<path d="M273.6,356.6h5M276.1,354.1v5" stroke="#55f0a0" stroke-width="1.15"/>
<path d="M273.1,334.1h5M275.6,331.6v5" stroke="#55f0a0" stroke-width="1.15"/>
<path d="M306.9,347.0h5M309.4,344.5v5" stroke="#28ebce" stroke-width="1.15"/>
<circle cx="238.0" cy="340.4" r="1.65" fill="none" stroke="#a8f14e" stroke-width="1.05"/>
<path d="M296.7,352.4h5M299.2,349.9v5" stroke="#55f0a0" stroke-width="1.15"/>
<path d="M300.0,349.6h5M302.5,347.1v5" stroke="#45eeb0" stroke-width="1.15"/>
<circle cx="284.9" cy="341.9" r="1.65" fill="none" stroke="#8ef06b" stroke-width="1.05"/>
<circle cx="252.7" cy="319.1" r="1.65" fill="none" stroke="#a4f052" stroke-width="1.05"/>
<circle cx="243.5" cy="340.9" r="1.65" fill="none" stroke="#b7f13e" stroke-width="1.05"/>
<circle cx="242.6" cy="337.0" r="1.65" fill="none" stroke="#cfee1b" stroke-width="1.05"/>
<path d="M270.8,327.0h5M273.3,324.5v5" stroke="#4eefa7" stroke-width="1.15"/>
<path d="M307.6,359.7h5M310.1,357.2v5" stroke="#2bebcb" stroke-width="1.15"/>
<path d="M326.8,354.9h5M329.3,352.4v5" stroke="#0ee8e9" stroke-width="1.15"/>
<path d="M268.0,340.0h5M270.5,337.5v5" stroke="#55f0a0" stroke-width="1.15"/>
<path d="M316.3,352.1h5M318.8,349.6v5" stroke="#22ead4" stroke-width="1.15"/>
<circle cx="261.3" cy="329.3" r="1.65" fill="none" stroke="#a4f053" stroke-width="1.05"/>
<path d="M248.3,353.3h5M250.8,350.8v5" stroke="#55f0a0" stroke-width="1.15"/>
<path d="M313.1,354.0h5M315.6,351.5v5" stroke="#27ebce" stroke-width="1.15"/>
<path d="M322.3,331.0h5M324.8,328.5v5" stroke="#31ecc5" stroke-width="1.15"/>
<path d="M334.8,338.2h5M337.3,335.7v5" stroke="#27ebce" stroke-width="1.15"/>
<path d="M334.5,336.5h5M337.0,334.0v5" stroke="#23ead3" stroke-width="1.15"/>
<path d="M249.9,338.0h5M252.4,335.5v5" stroke="#55f0a0" stroke-width="1.15"/>
<path d="M298.0,357.0h5M300.5,354.5v5" stroke="#46eeaf" stroke-width="1.15"/>
<circle cx="234.2" cy="342.6" r="1.65" fill="none" stroke="#b8f13c" stroke-width="1.05"/>
<path d="M284.8,345.9h5M287.3,343.4v5" stroke="#55f0a0" stroke-width="1.15"/>
<circle cx="236.3" cy="347.0" r="1.65" fill="none" stroke="#b8f13d" stroke-width="1.05"/>
<circle cx="257.3" cy="325.9" r="1.65" fill="none" stroke="#b1f145" stroke-width="1.05"/>
<circle cx="283.4" cy="358.0" r="1.65" fill="none" stroke="#8cf06e" stroke-width="1.05"/>
<circle cx="244.0" cy="323.0" r="1.65" fill="none" stroke="#bef237" stroke-width="1.05"/>
<circle cx="261.5" cy="354.7" r="1.65" fill="none" stroke="#a2f055" stroke-width="1.05"/>
<path d="M298.6,318.2h5M301.1,315.7v5" stroke="#37ecbe" stroke-width="1.15"/>
<path d="M325.5,357.9h5M328.0,355.4v5" stroke="#21ead5" stroke-width="1.15"/>
<circle cx="240.1" cy="337.3" r="1.65" fill="none" stroke="#b7f13d" stroke-width="1.05"/>
<circle cx="248.8" cy="342.5" r="1.65" fill="none" stroke="#9af05d" stroke-width="1.05"/>
<path d="M316.1,348.4h5M318.6,345.9v5" stroke="#25ead1" stroke-width="1.15"/>
<circle cx="326.5" cy="348.4" r="1.65" fill="none" stroke="#8cf06e" stroke-width="1.05"/>
<path d="M309.0,325.8h5M311.5,323.3v5" stroke="#33ecc3" stroke-width="1.15"/>
<circle cx="244.9" cy="337.8" r="1.65" fill="none" stroke="#adf149" stroke-width="1.05"/>
<path d="M303.8,352.7h5M306.3,350.2v5" stroke="#51efa3" stroke-width="1.15"/>
<circle cx="279.3" cy="343.7" r="1.65" fill="none" stroke="#a6f150" stroke-width="1.05"/>
<circle cx="334.4" cy="350.2" r="1.65" fill="none" stroke="#8cf06e" stroke-width="1.05"/>
<path d="M256.1,337.7h5M258.6,335.2v5" stroke="#55f0a0" stroke-width="1.15"/>
<path d="M323.0,340.8h5M325.5,338.3v5" stroke="#1fead7" stroke-width="1.15"/>
<path d="M303.6,327.4h5M306.1,324.9v5" stroke="#55f0a0" stroke-width="1.15"/>
<path d="M304.1,350.4h5M306.6,347.9v5" stroke="#4aeeaa" stroke-width="1.15"/>
<circle cx="266.0" cy="343.0" r="1.65" fill="none" stroke="#8cf06e" stroke-width="1.05"/>
<path d="M246.5,343.0h5M249.0,340.5v5" stroke="#55f0a0" stroke-width="1.15"/>
<circle cx="248.8" cy="340.9" r="1.65" fill="none" stroke="#adf149" stroke-width="1.05"/>
<path d="M304.0,342.6h5M306.5,340.1v5" stroke="#43eeb2" stroke-width="1.15"/>
<path d="M316.5,353.9h5M319.0,351.4v5" stroke="#4defa8" stroke-width="1.15"/>
<path d="M326.6,349.9h5M329.1,347.4v5" stroke="#28ebce" stroke-width="1.15"/>
<circle cx="237.6" cy="348.4" r="1.65" fill="none" stroke="#bef237" stroke-width="1.05"/>
<circle cx="299.7" cy="341.2" r="1.65" fill="none" stroke="#8cf06e" stroke-width="1.05"/>
<circle cx="255.3" cy="333.5" r="1.65" fill="none" stroke="#9af05d" stroke-width="1.05"/>
<circle cx="263.4" cy="336.9" r="1.65" fill="none" stroke="#b0f146" stroke-width="1.05"/>
<circle cx="286.4" cy="350.3" r="1.65" fill="none" stroke="#9ff058" stroke-width="1.05"/>
<path d="M276.9,342.0h5M279.4,339.5v5" stroke="#55f0a0" stroke-width="1.15"/>
<path d="M254.0,341.6h5M256.5,339.1v5" stroke="#55f0a0" stroke-width="1.15"/>
<path d="M231.6,342.0h5M234.1,339.5v5" stroke="#00b0ff" stroke-width="1.15"/>
<circle cx="285.0" cy="321.4" r="1.65" fill="none" stroke="#8ef06b" stroke-width="1.05"/>
<path d="M267.6,343.9h5M270.1,341.4v5" stroke="#55f0a0" stroke-width="1.15"/>
<circle cx="256.3" cy="334.4" r="1.65" fill="none" stroke="#b8f13c" stroke-width="1.05"/>
<circle cx="242.4" cy="341.2" r="1.65" fill="none" stroke="#bef237" stroke-width="1.05"/>
<path d="M268.5,330.8h5M271.0,328.3v5" stroke="#55f0a0" stroke-width="1.15"/>
<path d="M323.9,352.2h5M326.4,349.7v5" stroke="#27ebcf" stroke-width="1.15"/>
<circle cx="286.1" cy="324.6" r="1.65" fill="none" stroke="#8cf06e" stroke-width="1.05"/>
<path d="M286.8,342.0h5M289.3,339.5v5" stroke="#55f0a0" stroke-width="1.15"/>
<path d="M265.5,351.4h5M268.0,348.9v5" stroke="#4fefa5" stroke-width="1.15"/>
<circle cx="251.6" cy="320.5" r="1.65" fill="none" stroke="#a2f055" stroke-width="1.05"/>
<circle cx="282.0" cy="346.9" r="1.65" fill="none" stroke="#99f05e" stroke-width="1.05"/>
<path d="M304.6,346.6h5M307.1,344.1v5" stroke="#44eeb1" stroke-width="1.15"/>
<circle cx="268.0" cy="333.1" r="1.65" fill="none" stroke="#9ff058" stroke-width="1.05"/>
<path d="M332.9,344.9h5M335.4,342.4v5" stroke="#25ead1" stroke-width="1.15"/>
<path d="M271.5,359.5h5M274.0,357.0v5" stroke="#55f0a0" stroke-width="1.15"/>
<circle cx="254.4" cy="334.9" r="1.65" fill="none" stroke="#aff147" stroke-width="1.05"/>
<circle cx="237.5" cy="321.1" r="1.65" fill="none" stroke="#a7f14f" stroke-width="1.05"/>
<path d="M297.3,336.5h5M299.8,334.0v5" stroke="#43eeb2" stroke-width="1.15"/>
<path d="M308.6,353.2h5M311.1,350.7v5" stroke="#41edb3" stroke-width="1.15"/>
<path d="M275.3,342.8h5M277.8,340.3v5" stroke="#44eeb0" stroke-width="1.15"/>
<path d="M304.3,353.0h5M306.8,350.5v5" stroke="#4fefa5" stroke-width="1.15"/>
<circle cx="266.6" cy="335.9" r="1.65" fill="none" stroke="#a4f053" stroke-width="1.05"/>
<path d="M305.7,337.4h5M308.2,334.9v5" stroke="#44eeb1" stroke-width="1.15"/>
<path d="M296.1,328.4h5M298.6,325.9v5" stroke="#3aedbb" stroke-width="1.15"/>
<path d="M299.6,344.5h5M302.1,342.0v5" stroke="#51efa3" stroke-width="1.15"/>
<circle cx="238.0" cy="330.5" r="1.65" fill="none" stroke="#b9f13b" stroke-width="1.05"/>
<path d="M285.5,352.9h5M288.0,350.4v5" stroke="#46eeaf" stroke-width="1.15"/>
<path d="M284.8,328.0h5M287.3,325.5v5" stroke="#55f0a0" stroke-width="1.15"/>
<path d="M330.1,349.5h5M332.6,347.0v5" stroke="#0be8eb" stroke-width="1.15"/>
<circle cx="246.7" cy="347.9" r="1.65" fill="none" stroke="#b1f144" stroke-width="1.05"/>
<path d="M273.1,351.6h5M275.6,349.1v5" stroke="#55f0a0" stroke-width="1.15"/>
<path d="M268.1,339.0h5M270.6,336.5v5" stroke="#55f0a0" stroke-width="1.15"/>
<path d="M286.3,345.2h5M288.8,342.7v5" stroke="#36ecbf" stroke-width="1.15"/>
<circle cx="247.4" cy="341.0" r="1.65" fill="none" stroke="#bef237" stroke-width="1.05"/>
<path d="M290.0,346.0h5M292.5,343.5v5" stroke="#26ebd0" stroke-width="1.15"/>
<path d="M316.6,349.1h5M319.1,346.6v5" stroke="#3fedb6" stroke-width="1.15"/>
<path d="M244.5,342.8h5M247.0,340.3v5" stroke="#55f0a0" stroke-width="1.15"/>
<circle cx="273.1" cy="339.7" r="1.65" fill="none" stroke="#c7f027" stroke-width="1.05"/>
<circle cx="263.2" cy="339.4" r="1.65" fill="none" stroke="#95f063" stroke-width="1.05"/>
<path d="M297.8,336.8h5M300.3,334.3v5" stroke="#50efa4" stroke-width="1.15"/>
<circle cx="239.9" cy="348.2" r="1.65" fill="none" stroke="#bef237" stroke-width="1.05"/>
<circle cx="320.5" cy="343.0" r="1.65" fill="none" stroke="#8cf06e" stroke-width="1.05"/>
<path d="M299.7,342.6h5M302.2,340.1v5" stroke="#3bedba" stroke-width="1.15"/>
<path d="M312.2,340.1h5M314.7,337.6v5" stroke="#2eebc8" stroke-width="1.15"/>
<path d="M249.0,349.7h5M251.5,347.2v5" stroke="#55f0a0" stroke-width="1.15"/>
<path d="M324.5,349.8h5M327.0,347.3v5" stroke="#43eeb1" stroke-width="1.15"/>
<path d="M286.7,340.8h5M289.2,338.3v5" stroke="#55f0a0" stroke-width="1.15"/>
<circle cx="261.5" cy="339.5" r="1.65" fill="none" stroke="#d0ee19" stroke-width="1.05"/>
<circle cx="249.0" cy="324.9" r="1.65" fill="none" stroke="#adf149" stroke-width="1.05"/>
<circle cx="234.7" cy="343.2" r="1.65" fill="none" stroke="#bef237" stroke-width="1.05"/>
<path d="M318.9,336.2h5M321.4,333.7v5" stroke="#22ead4" stroke-width="1.15"/>
<path d="M297.8,340.7h5M300.3,338.2v5" stroke="#47eeae" stroke-width="1.15"/>
<path d="M328.4,330.1h5M330.9,327.6v5" stroke="#0ae8ee" stroke-width="1.15"/>
<path d="M324.8,362.0h5M327.3,359.5v5" stroke="#22ead4" stroke-width="1.15"/>
<path d="M321.1,336.2h5M323.6,333.7v5" stroke="#1eead8" stroke-width="1.15"/>
<circle cx="255.9" cy="327.8" r="1.65" fill="none" stroke="#a2f055" stroke-width="1.05"/>
<circle cx="264.5" cy="344.5" r="1.65" fill="none" stroke="#aef147" stroke-width="1.05"/>
<path d="M284.2,357.0h5M286.7,354.5v5" stroke="#55f0a0" stroke-width="1.15"/>
<path d="M264.5,335.0h5M267.0,332.5v5" stroke="#55f0a0" stroke-width="1.15"/>
<circle cx="238.2" cy="332.9" r="1.65" fill="none" stroke="#d6ed10" stroke-width="1.05"/>
<circle cx="234.6" cy="345.7" r="1.65" fill="none" stroke="#9af05d" stroke-width="1.05"/>
<path d="M313.6,356.6h5M316.1,354.1v5" stroke="#3eedb7" stroke-width="1.15"/>
<path d="M303.9,329.3h5M306.4,326.8v5" stroke="#4aeeaa" stroke-width="1.15"/>
<circle cx="281.6" cy="341.2" r="1.65" fill="none" stroke="#c5f02a" stroke-width="1.05"/>
<path d="M326.6,339.1h5M329.1,336.6v5" stroke="#31ecc4" stroke-width="1.15"/>
<path d="M290.0,341.3h5M292.5,338.8v5" stroke="#40edb5" stroke-width="1.15"/>
<circle cx="278.8" cy="324.4" r="1.65" fill="none" stroke="#b0f145" stroke-width="1.05"/>
<circle cx="238.1" cy="351.5" r="1.65" fill="none" stroke="#a4f052" stroke-width="1.05"/>
<path d="M277.9,351.5h5M280.4,349.0v5" stroke="#55f0a0" stroke-width="1.15"/>
<path d="M333.5,334.4h5M336.0,331.9v5" stroke="#1be9db" stroke-width="1.15"/>
<circle cx="256.1" cy="339.6" r="1.65" fill="none" stroke="#a6f151" stroke-width="1.05"/>
<path d="M244.2,342.2h5M246.7,339.7v5" stroke="#55f0a0" stroke-width="1.15"/>
<circle cx="235.8" cy="335.1" r="1.65" fill="none" stroke="#bef237" stroke-width="1.05"/>
<path d="M236.7,339.5h5M239.2,337.0v5" stroke="#55f0a0" stroke-width="1.15"/>
<circle cx="242.8" cy="325.3" r="1.65" fill="none" stroke="#bef237" stroke-width="1.05"/>
<circle cx="260.4" cy="355.9" r="1.65" fill="none" stroke="#caef23" stroke-width="1.05"/>
<path d="M316.5,352.4h5M319.0,349.9v5" stroke="#2aebcc" stroke-width="1.15"/>
<path d="M321.0,340.7h5M323.5,338.2v5" stroke="#2bebcb" stroke-width="1.15"/>
<path d="M277.1,337.8h5M279.6,335.3v5" stroke="#55f0a0" stroke-width="1.15"/>
<path d="M298.6,334.6h5M301.1,332.1v5" stroke="#4fefa6" stroke-width="1.15"/>
<path d="M329.8,348.4h5M332.3,345.9v5" stroke="#35ecc0" stroke-width="1.15"/>
<path d="M332.8,339.6h5M335.3,337.1v5" stroke="#3aedbc" stroke-width="1.15"/>
<path d="M333.2,352.9h5M335.7,350.4v5" stroke="#30ecc5" stroke-width="1.15"/>
<path d="M323.9,332.8h5M326.4,330.3v5" stroke="#18e9de" stroke-width="1.15"/>
<path d="M315.5,343.9h5M318.0,341.4v5" stroke="#30ecc5" stroke-width="1.15"/>
<circle cx="295.0" cy="351.2" r="1.65" fill="none" stroke="#a4f053" stroke-width="1.05"/>
<path d="M315.9,353.7h5M318.4,351.2v5" stroke="#3fedb6" stroke-width="1.15"/>
<path d="M315.4,334.3h5M317.9,331.8v5" stroke="#50efa5" stroke-width="1.15"/>
<path d="M289.1,343.8h5M291.6,341.3v5" stroke="#55f0a0" stroke-width="1.15"/>
<circle cx="258.3" cy="325.7" r="1.65" fill="none" stroke="#b4f141" stroke-width="1.05"/>
<circle cx="260.5" cy="339.0" r="1.65" fill="none" stroke="#bef237" stroke-width="1.05"/>
<path d="M315.4,345.1h5M317.9,342.6v5" stroke="#3cedb9" stroke-width="1.15"/>
<path d="M323.5,332.3h5M326.0,329.8v5" stroke="#2bebcb" stroke-width="1.15"/>
<circle cx="254.0" cy="345.5" r="1.65" fill="none" stroke="#94f064" stroke-width="1.05"/>
<circle cx="275.9" cy="334.0" r="1.65" fill="none" stroke="#98f060" stroke-width="1.05"/>
<path d="M270.4,352.2h5M272.9,349.7v5" stroke="#54efa0" stroke-width="1.15"/>
<circle cx="296.1" cy="334.6" r="1.65" fill="none" stroke="#bef136" stroke-width="1.05"/>
<path d="M321.6,330.4h5M324.1,327.9v5" stroke="#29ebcd" stroke-width="1.15"/>
<path d="M275.8,358.2h5M278.3,355.7v5" stroke="#55f0a0" stroke-width="1.15"/>
<circle cx="260.4" cy="346.0" r="1.65" fill="none" stroke="#a2f055" stroke-width="1.05"/>
<circle cx="239.3" cy="316.1" r="1.65" fill="none" stroke="#bef237" stroke-width="1.05"/>
<path d="M326.1,358.6h5M328.6,356.1v5" stroke="#1eead8" stroke-width="1.15"/>
<path d="M331.3,344.8h5M333.8,342.3v5" stroke="#0de8ea" stroke-width="1.15"/>
<path d="M301.2,333.3h5M303.7,330.8v5" stroke="#36ecbf" stroke-width="1.15"/>
<path d="M334.6,346.3h5M337.1,343.8v5" stroke="#18e9de" stroke-width="1.15"/>
<path d="M325.4,362.2h5M327.9,359.7v5" stroke="#37ecbf" stroke-width="1.15"/>
<circle cx="307.8" cy="323.8" r="1.65" fill="none" stroke="#9ff058" stroke-width="1.05"/>
<path d="M310.0,358.9h5M312.5,356.4v5" stroke="#3fedb5" stroke-width="1.15"/>
<path d="M310.3,351.2h5M312.8,348.7v5" stroke="#2febc7" stroke-width="1.15"/>
<circle cx="284.1" cy="344.9" r="1.65" fill="none" stroke="#8cf06e" stroke-width="1.05"/>
<circle cx="235.3" cy="335.1" r="1.65" fill="none" stroke="#bef237" stroke-width="1.05"/>
<path d="M254.4,358.7h5M256.9,356.2v5" stroke="#55f0a0" stroke-width="1.15"/>
<path d="M278.0,361.4h5M280.5,358.9v5" stroke="#46eeaf" stroke-width="1.15"/>
<path d="M278.5,329.7h5M281.0,327.2v5" stroke="#41edb4" stroke-width="1.15"/>
<circle cx="248.8" cy="338.5" r="1.65" fill="none" stroke="#a9f14d" stroke-width="1.05"/>
<circle cx="249.0" cy="343.8" r="1.65" fill="none" stroke="#b6f13f" stroke-width="1.05"/>
<circle cx="262.2" cy="344.3" r="1.65" fill="none" stroke="#aef147" stroke-width="1.05"/>
<path d="M264.6,343.9h5M267.1,341.4v5" stroke="#55f0a0" stroke-width="1.15"/>
<path d="M324.6,341.1h5M327.1,338.6v5" stroke="#30ecc5" stroke-width="1.15"/>
<path d="M258.3,342.0h5M260.8,339.5v5" stroke="#55f0a0" stroke-width="1.15"/>
<path d="M327.7,352.6h5M330.2,350.1v5" stroke="#1dead9" stroke-width="1.15"/>
<circle cx="309.6" cy="335.0" r="1.65" fill="none" stroke="#8cf06e" stroke-width="1.05"/>
<path d="M267.0,340.1h5M269.5,337.6v5" stroke="#55f0a0" stroke-width="1.15"/>
<circle cx="253.3" cy="315.9" r="1.65" fill="none" stroke="#9df05a" stroke-width="1.05"/>
<circle cx="248.4" cy="345.8" r="1.65" fill="none" stroke="#97f061" stroke-width="1.05"/>
<circle cx="242.2" cy="350.1" r="1.65" fill="none" stroke="#a9f14e" stroke-width="1.05"/>
<path d="M252.9,325.3h5M255.4,322.8v5" stroke="#55f0a0" stroke-width="1.15"/>
<circle cx="255.0" cy="354.7" r="1.65" fill="none" stroke="#9ff058" stroke-width="1.05"/>
<path d="M237.3,340.7h5M239.8,338.2v5" stroke="#55f0a0" stroke-width="1.15"/>
<path d="M282.8,365.1h5M285.3,362.6v5" stroke="#51efa3" stroke-width="1.15"/>
<circle cx="261.7" cy="347.1" r="1.65" fill="none" stroke="#8cf06e" stroke-width="1.05"/>
<path d="M270.1,339.1h5M272.6,336.6v5" stroke="#55f0a0" stroke-width="1.15"/>
<path d="M285.1,353.9h5M287.6,351.4v5" stroke="#41edb3" stroke-width="1.15"/>
<path d="M264.9,336.9h5M267.4,334.4v5" stroke="#55f0a0" stroke-width="1.15"/>
<path d="M322.3,357.0h5M324.8,354.5v5" stroke="#2febc7" stroke-width="1.15"/>
<circle cx="257.3" cy="342.3" r="1.65" fill="none" stroke="#9ef05a" stroke-width="1.05"/>
<circle cx="237.1" cy="341.8" r="1.65" fill="none" stroke="#ccef20" stroke-width="1.05"/>
<path d="M291.5,335.0h5M294.0,332.5v5" stroke="#4defa7" stroke-width="1.15"/>
<circle cx="308.6" cy="338.3" r="1.65" fill="none" stroke="#8cf06e" stroke-width="1.05"/>
<circle cx="263.1" cy="348.0" r="1.65" fill="none" stroke="#a9f14d" stroke-width="1.05"/>
<path d="M321.1,347.9h5M323.6,345.4v5" stroke="#41edb3" stroke-width="1.15"/>
<path d="M317.4,336.1h5M319.9,333.6v5" stroke="#3bedba" stroke-width="1.15"/>
<path d="M286.2,348.8h5M288.7,346.3v5" stroke="#38ecbd" stroke-width="1.15"/>
<circle cx="259.0" cy="331.8" r="1.65" fill="none" stroke="#bef237" stroke-width="1.05"/>
<path d="M326.4,357.2h5M328.9,354.7v5" stroke="#23ead3" stroke-width="1.15"/>
<path d="M346.4,342.0h5M348.9,339.5v5" stroke="#20ead6" stroke-width="1.15"/>
<path d="M333.1,338.0h5M335.6,335.5v5" stroke="#25ead0" stroke-width="1.15"/>
<path d="M333.3,337.2h5M335.8,334.7v5" stroke="#27ebcf" stroke-width="1.15"/>
<path d="M326.0,363.7h5M328.5,361.2v5" stroke="#15e9e2" stroke-width="1.15"/>
<path d="M342.7,341.4h5M345.2,338.9v5" stroke="#0de8ea" stroke-width="1.15"/>
<path d="M323.4,339.6h5M325.9,337.1v5" stroke="#1fead7" stroke-width="1.15"/>
<path d="M336.1,338.3h5M338.6,335.8v5" stroke="#15e9e2" stroke-width="1.15"/>
<path d="M328.8,333.4h5M331.3,330.9v5" stroke="#1fead7" stroke-width="1.15"/>
<path d="M330.1,343.5h5M332.6,341.0v5" stroke="#24ead2" stroke-width="1.15"/>
<path d="M337.4,357.7h5M339.9,355.2v5" stroke="#1ae9dd" stroke-width="1.15"/>
<path d="M335.8,341.4h5M338.3,338.9v5" stroke="#24ead2" stroke-width="1.15"/>
<path d="M325.8,342.0h5M328.3,339.5v5" stroke="#20ead6" stroke-width="1.15"/>
<path d="M324.7,355.8h5M327.2,353.3v5" stroke="#0ee8e9" stroke-width="1.15"/>
<path d="M337.7,330.6h5M340.2,328.1v5" stroke="#12e8e4" stroke-width="1.15"/>
<path d="M334.0,338.2h5M336.5,335.7v5" stroke="#15e9e1" stroke-width="1.15"/>
<path d="M334.2,342.0h5M336.7,339.5v5" stroke="#18e9de" stroke-width="1.15"/>
<path d="M332.1,352.6h5M334.6,350.1v5" stroke="#27ebcf" stroke-width="1.15"/>
<path d="M331.3,350.2h5M333.8,347.7v5" stroke="#19e9de" stroke-width="1.15"/>
<path d="M329.6,338.8h5M332.1,336.3v5" stroke="#1fead8" stroke-width="1.15"/>
<path d="M341.8,347.2h5M344.3,344.7v5" stroke="#1ae9dc" stroke-width="1.15"/>
<polygon points="526.3,394.3 535.8,394.3 530.6,400" fill="#0000ff"/>
<g transform="translate(0,71) scale(1,1.08)"><text x="594.5" y="0" font-family="Liberation Mono" font-size="11.67" fill="#000" xml:space="preserve">Num of Sources</text>
<text x="791" y="0" font-family="Liberation Mono" font-size="11.67" fill="#000" text-anchor="end">697</text>
</g>
<g transform="translate(0,85) scale(1,1.08)"><text x="594.5" y="0" font-family="Liberation Mono" font-size="11.67" fill="#000" xml:space="preserve">Min Freq, kHz</text>
<text x="791" y="0" font-family="Liberation Mono" font-size="11.67" fill="#000" text-anchor="end">5680</text>
</g>
<g transform="translate(0,99) scale(1,1.08)"><text x="594.5" y="0" font-family="Liberation Mono" font-size="11.67" fill="#000" xml:space="preserve">Max Freq, kHz</text>
<text x="791" y="0" font-family="Liberation Mono" font-size="11.67" fill="#000" text-anchor="end">7220</text>
</g>
<g transform="translate(0,113) scale(1,1.08)"><text x="594.5" y="0" font-family="Liberation Mono" font-size="11.67" fill="#000" xml:space="preserve">Min Range, km</text>
<text x="791" y="0" font-family="Liberation Mono" font-size="11.67" fill="#000" text-anchor="end">345</text>
</g>
<g transform="translate(0,127) scale(1,1.08)"><text x="594.5" y="0" font-family="Liberation Mono" font-size="11.67" fill="#000" xml:space="preserve">Max Range, km</text>
<text x="791" y="0" font-family="Liberation Mono" font-size="11.67" fill="#000" text-anchor="end">565</text>
</g>
<g transform="translate(0,141) scale(1,1.08)"><text x="594.5" y="0" font-family="Liberation Mono" font-size="11.67" fill="#000" xml:space="preserve">Max Amp, dB</text>
<text x="791" y="0" font-family="Liberation Mono" font-size="11.67" fill="#000" text-anchor="end">61</text>
</g>
<g transform="translate(0,155) scale(1,1.08)"><text x="594.5" y="0" font-family="Liberation Mono" font-size="11.67" fill="#000" xml:space="preserve">Max SNR Amp, dB</text>
<text x="791" y="0" font-family="Liberation Mono" font-size="11.67" fill="#000" text-anchor="end">34</text>
</g>
<g transform="translate(0,169) scale(1,1.08)"><text x="594.5" y="0" font-family="Liberation Mono" font-size="11.67" fill="#000" xml:space="preserve">Min SNR Amp, dB</text>
<text x="791" y="0" font-family="Liberation Mono" font-size="11.67" fill="#000" text-anchor="end">6</text>
</g>
<g transform="translate(0,183) scale(1,1.08)"><text x="594.5" y="0" font-family="Liberation Mono" font-size="11.67" fill="#000" xml:space="preserve">Avg SNR Amp, dB</text>
<text x="791" y="0" font-family="Liberation Mono" font-size="11.67" fill="#000" text-anchor="end">17</text>
</g>
<g transform="translate(0,197) scale(1,1.08)"><text x="594.5" y="0" font-family="Liberation Mono" font-size="11.67" fill="#000" xml:space="preserve">Max RMS Err, deg</text>
<text x="791" y="0" font-family="Liberation Mono" font-size="11.67" fill="#000" text-anchor="end">42.0</text>
</g>
<g transform="translate(0,211) scale(1,1.08)"><text x="594.5" y="0" font-family="Liberation Mono" font-size="11.67" fill="#000" xml:space="preserve">Min RMS Err, deg</text>
<text x="791" y="0" font-family="Liberation Mono" font-size="11.67" fill="#000" text-anchor="end">0.0</text>
</g>
<g transform="translate(0,225) scale(1,1.08)"><text x="594.5" y="0" font-family="Liberation Mono" font-size="11.67" fill="#000" xml:space="preserve">Avg RMS Err, deg</text>
<text x="791" y="0" font-family="Liberation Mono" font-size="11.67" fill="#000" text-anchor="end">9.2</text>
</g>
<g transform="translate(0,239) scale(1,1.08)"><text x="594.5" y="0" font-family="Liberation Mono" font-size="11.67" fill="#000" xml:space="preserve">Doppler Res, Hz</text>
<text x="791" y="0" font-family="Liberation Mono" font-size="11.67" fill="#000" text-anchor="end">0.0723</text>
</g>
<g transform="translate(0,253) scale(1,1.08)"><text x="594.5" y="0" font-family="Liberation Mono" font-size="11.67" fill="#000" xml:space="preserve">CIT, sec</text>
<text x="791" y="0" font-family="Liberation Mono" font-size="11.67" fill="#000" text-anchor="end">13.84</text>
</g>
<g transform="translate(0,267) scale(1,1.08)"><text x="594.5" y="0" font-family="Liberation Mono" font-size="11.67" fill="#000" xml:space="preserve">Num of CITs</text>
<text x="791" y="0" font-family="Liberation Mono" font-size="11.67" fill="#000" text-anchor="end">2</text>
</g>
<g transform="translate(0,281) scale(1,1.08)"><text x="594.5" y="0" font-family="Liberation Mono" font-size="11.67" fill="#000" xml:space="preserve">Polarization</text>
<text x="791" y="0" font-family="Liberation Mono" font-size="11.67" fill="#000" text-anchor="end">O-mode</text>
</g>
<g transform="translate(0,295) scale(1,1.08)"><text x="594.5" y="0" font-family="Liberation Mono" font-size="11.67" fill="#000" xml:space="preserve">Center of Sources, deg:</text>
</g>
<g transform="translate(0,309) scale(1,1.08)"><text x="594.5" y="0" font-family="Liberation Mono" font-size="11.67" fill="#000" xml:space="preserve">          Zenith</text>
<text x="791" y="0" font-family="Liberation Mono" font-size="11.67" fill="#000" text-anchor="end">4.8</text>
</g>
<g transform="translate(0,323) scale(1,1.08)"><text x="594.5" y="0" font-family="Liberation Mono" font-size="11.67" fill="#000" xml:space="preserve">          Azimuth</text>
<text x="791" y="0" font-family="Liberation Mono" font-size="11.67" fill="#000" text-anchor="end">158</text>
</g>
<path d="M721,320.5 L723.2,318.2 Q724.6,317.2 725.6,319.6" fill="none" stroke="#000" stroke-width="1.2"/>
<defs><linearGradient id="cb" x1="0" y1="0" x2="0" y2="1"><stop offset="0" stop-color="#0000a8"/><stop offset="0.07" stop-color="#0000ff"/><stop offset="0.35" stop-color="#00ffff"/><stop offset="0.5" stop-color="#80ff80"/><stop offset="0.635" stop-color="#ffff00"/><stop offset="0.79" stop-color="#ff8000"/><stop offset="0.915" stop-color="#ff0000"/><stop offset="1" stop-color="#a80000"/></linearGradient></defs>
<rect x="593" y="341.6" width="15" height="241.5" fill="url(#cb)"/>
<line x1="608.5" y1="341.6" x2="608.5" y2="583.0" stroke="#000" stroke-width="1.2"/>
<line x1="608" y1="341.6" x2="615" y2="341.6" stroke="#000" stroke-width="1.2"/>
<line x1="608" y1="357.3" x2="615" y2="357.3" stroke="#000" stroke-width="1.2"/>
<line x1="608" y1="383.6" x2="615" y2="383.6" stroke="#000" stroke-width="1.2"/>
<line x1="608" y1="409.8" x2="615" y2="409.8" stroke="#000" stroke-width="1.2"/>
<line x1="608" y1="436.1" x2="615" y2="436.1" stroke="#000" stroke-width="1.2"/>
<line x1="608" y1="462.3" x2="615" y2="462.3" stroke="#000" stroke-width="1.2"/>
<line x1="608" y1="488.6" x2="615" y2="488.6" stroke="#000" stroke-width="1.2"/>
<line x1="608" y1="514.8" x2="615" y2="514.8" stroke="#000" stroke-width="1.2"/>
<line x1="608" y1="541.0" x2="615" y2="541.0" stroke="#000" stroke-width="1.2"/>
<line x1="608" y1="567.3" x2="615" y2="567.3" stroke="#000" stroke-width="1.2"/>
<line x1="608" y1="583.0" x2="615" y2="583.0" stroke="#000" stroke-width="1.2"/>
<text x="617.5" y="345.6" font-family="Liberation Sans" font-weight="bold" font-size="11.6" letter-spacing="1.65" fill="#000">4.6</text>
<text x="617.5" y="387.6" font-family="Liberation Sans" font-weight="bold" font-size="11.6" letter-spacing="1.65" fill="#000">3.0</text>
<text x="617.5" y="413.8" font-family="Liberation Sans" font-weight="bold" font-size="11.6" letter-spacing="1.65" fill="#000">2.0</text>
<text x="617.5" y="440.1" font-family="Liberation Sans" font-weight="bold" font-size="11.6" letter-spacing="1.65" fill="#000">1.0</text>
<text x="617.5" y="466.3" font-family="Liberation Sans" font-weight="bold" font-size="11.6" letter-spacing="1.65" fill="#000">0</text>
<text x="617.5" y="492.6" font-family="Liberation Sans" font-weight="bold" font-size="11.6" letter-spacing="1.65" fill="#000">-1.0</text>
<text x="617.5" y="518.8" font-family="Liberation Sans" font-weight="bold" font-size="11.6" letter-spacing="1.65" fill="#000">-2.0</text>
<text x="617.5" y="545.0" font-family="Liberation Sans" font-weight="bold" font-size="11.6" letter-spacing="1.65" fill="#000">-3.0</text>
<text x="617.5" y="587.0" font-family="Liberation Sans" font-weight="bold" font-size="11.6" letter-spacing="1.65" fill="#000">-4.6</text>
<text transform="translate(658,492) rotate(-90)" font-family="Liberation Sans" font-weight="bold" font-size="10" fill="#000" textLength="53" lengthAdjust="spacingAndGlyphs">Doppler, Hz</text>
<path d="M669,402.5 h8 M673,398.6 v7.6" stroke="#0000e6" stroke-width="1.1"/>
<text x="682.5" y="406.8" font-family="Liberation Sans" font-weight="bold" font-size="11" fill="#0000e6" textLength="44" lengthAdjust="spacingAndGlyphs">Positive</text>
<circle cx="672.8" cy="522.3" r="2.6" fill="none" stroke="#ee0000" stroke-width="1"/>
<text x="682.5" y="526" font-family="Liberation Sans" font-weight="bold" font-size="11" fill="#ee0000" textLength="50" lengthAdjust="spacingAndGlyphs">Negative</text>
<text x="654.5" y="593" font-family="Liberation Sans" font-size="9.6" fill="#000" textLength="88.5" lengthAdjust="spacingAndGlyphs">ShowSkymap v 1.0</text>
<text x="753.5" y="593" font-family="Liberation Sans" font-size="9.6" fill="#000" textLength="38.5" lengthAdjust="spacingAndGlyphs">SD v 4.2</text>
<g transform="translate(0,572) scale(1,1.2)"><text x="12" y="0" font-family="Liberation Mono" font-style="italic" font-size="11.67" fill="#000" xml:space="preserve">V<tspan font-style="normal" font-size="10" dy="3">h</tspan><tspan dy="-3"> = 226 ± 99 m/s</tspan></text></g>
<g transform="translate(0,592.5) scale(1,1.2)"><text x="12" y="0" font-family="Liberation Mono" font-style="italic" font-size="11.67" fill="#000">Compass coordinates</text></g>
<g transform="translate(0,572) scale(1,1.2)"><text x="466.5" y="0" font-family="Liberation Mono" font-style="italic" font-size="11.67" fill="#000" xml:space="preserve">V<tspan font-style="normal" font-size="10" dy="3">z</tspan><tspan dy="-3"> = -1 ± 11 m/s</tspan></text></g>
<g transform="translate(0,592.5) scale(1,1.245)"><text x="419.3" y="0" font-family="Liberation Mono" font-style="italic" font-size="11.25" fill="#000" xml:space="preserve">Zenith: max 40°  step 5°</text></g>
</svg></body></html>
